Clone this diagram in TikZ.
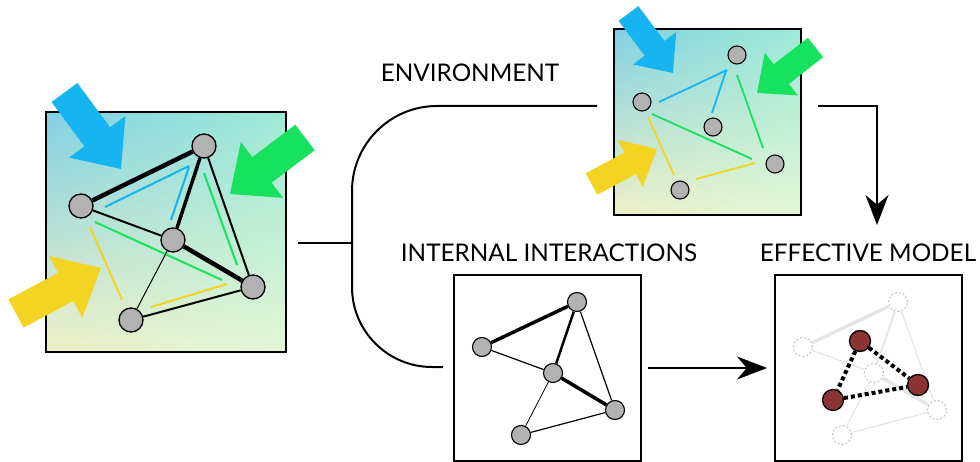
\documentclass[tikz,border=0pt]{standalone}
\usepackage{fontspec}
\setmainfont{Lato}
\usepackage{xcolor}
\usepackage{tikz}
\usetikzlibrary{arrows.meta,calc,shadings}
\definecolor{envblue}{RGB}{22,180,240}
\definecolor{envgreen}{RGB}{22,226,96}
\definecolor{envyellow}{RGB}{244,212,34}
\definecolor{nodegray}{RGB}{178,178,178}
\definecolor{effred}{RGB}{140,52,52}
\definecolor{bgtl}{RGB}{130,208,228}
\definecolor{bgtr}{RGB}{158,234,214}
\definecolor{bgbl}{RGB}{240,240,198}
\definecolor{bgbr}{RGB}{226,246,214}
\newcommand\blockarrow[4]{%
\coordinate (ba) at ($(#3)!#4*40pt!(#2)$);
\fill[#1]($(#2)!#4*16pt!90:(#3)$)--($(ba)!#4*16pt!-90:(#2)$)--($(ba)!#4*35pt!-90:(#2)$)--(#3)
--($(ba)!#4*35pt!90:(#2)$)--($(ba)!#4*16pt!90:(#2)$)--($(#2)!#4*16pt!-90:(#3)$)--cycle;}

\begin{document}
\begin{tikzpicture}[x=1pt,y=-1pt,font=\fontsize{24.3}{29}\selectfont,
gnode/.style={circle,draw,line width=1.3pt,fill=nodegray,inner sep=0pt,minimum size=24pt},
snode/.style={gnode,minimum size=18pt,line width=1.1pt},
inode/.style={gnode,minimum size=19pt,line width=1.1pt},
ghost/.style={circle,draw=gray!50,dash pattern=on 2pt off 2pt,line width=1pt,fill=white,inner sep=0pt,minimum size=19pt},
rnode/.style={circle,draw,line width=1.3pt,fill=effred,inner sep=0pt,minimum size=21pt},
envbox/.style={draw,line width=2pt,shading=bilinear interpolation,upper left=bgtl,upper right=bgtr,lower left=bgbl,lower right=bgbr,inner sep=0pt},
plainbox/.style={draw,line width=2pt,inner sep=0pt,minimum width=187pt,minimum height=186pt},
link/.style={line width=2pt}]
\useasboundingbox (0,0) rectangle (980,462);

\node[envbox,minimum width=240pt,minimum height=240pt] (sys) at (166,232) {};
\node[envbox,minimum width=187pt,minimum height=186pt] (env) at (707.5,122) {};
\node[plainbox] (int) at (547.5,368) {};
\node[plainbox] (eff) at (868.5,368) {};

\node (envlabel) at (470,73) {ENVIRONMENT};
\node (intlabel) at (549,253) {INTERNAL INTERACTIONS};
\node (efflabel) at (868,253) {EFFECTIVE MODEL};

\draw[envblue,line width=2pt](105,207)--(189,166) (171,220)--(189,167);
\draw[envgreen,line width=2pt](204,173)--(237,265) (95,222)--(222,280);
\draw[envyellow,line width=2pt](90,227)--(122,300) (151,307)--(227,284);
\node[gnode] (a1) at (204,146) {};
\node[gnode] (a2) at (81,206) {};
\node[gnode] (a3) at (173,240) {};
\node[gnode] (a4) at (253,287) {};
\node[gnode] (a5) at (131,320) {};
\draw[line width=4.5pt](a2)--(a1);
\draw[line width=3.5pt](a1)--(a3);
\draw[line width=4.5pt](a3)--(a4);
\draw[line width=2pt](a1)--(a4) (a2)--(a3) (a5)--(a4);
\draw[line width=1pt](a3)--(a5);
\blockarrow{envblue}{64.5,92.5}{121,169}{1}
\blockarrow{envgreen}{305,137.5}{230,194}{1}
\blockarrow{envyellow}{16,313.5}{101,268}{1}

\draw[envblue,line width=1.8pt](659,102)--(727,70) (712,113)--(726,71);
\draw[envgreen,line width=1.8pt](737,75)--(763,148) (652,114)--(752,159);
\draw[envyellow,line width=1.8pt](648,117)--(674,175) (696,179)--(755,163);
\node[snode] (e1) at (737,55) {};
\node[snode] (e2) at (642,102) {};
\node[snode] (e3) at (713,127) {};
\node[snode] (e4) at (775,164) {};
\node[snode] (e5) at (680,190) {};
\blockarrow{envblue}{628.5,13.5}{673,73}{0.77}
\blockarrow{envgreen}{815.5,47.5}{757,93}{0.77}
\blockarrow{envyellow}{591.5,184}{657,149}{0.76}

\node[inode] (i1) at (577,302) {};
\node[inode] (i2) at (482,347) {};
\node[inode] (i3) at (553,373) {};
\node[inode] (i4) at (615,410) {};
\node[inode] (i5) at (521,435) {};
\draw[line width=3.5pt](i2)--(i1) (i3)--(i4);
\draw[line width=2.5pt](i1)--(i3);
\draw[line width=1.2pt](i1)--(i4) (i2)--(i3) (i5)--(i4);
\draw[line width=0.8pt](i3)--(i5);

\node[ghost] (f1) at (898,302) {};
\node[ghost] (f2) at (803,347) {};
\node[ghost] (f3) at (874,373) {};
\node[ghost] (f4) at (937,410) {};
\node[ghost] (f5) at (842,435) {};
\draw[gray!20,line width=3.5pt](f2)--(f1) (f3)--(f4);
\draw[gray!20,line width=2pt](f1)--(f3);
\draw[gray!20,line width=1.2pt](f1)--(f4) (f2)--(f3) (f5)--(f4) (f3)--(f5);
\node[rnode] (r1) at (860,341) {};
\node[rnode] (r2) at (918,385) {};
\node[rnode] (r3) at (833,400) {};
\draw[line width=4pt,dash pattern=on 4pt off 3pt](r1)--(r2) (r1)--(r3) (r3)--(r2);

\coordinate (sysout) at (298,243);
\coordinate (brk) at (352,243);
\coordinate (envin) at (597,106);
\coordinate (intin) at (443,367);
\coordinate (envout) at (818,106);
\coordinate (effin) at (877,225);
\coordinate (intout) at (648,368);
\coordinate (effleft) at (767,368);
\draw[link](sysout)--(brk);
\draw[link,rounded corners=85pt](envin)-|(brk);
\draw[link,rounded corners=80pt](brk)|-(intin);
\draw[link,-{Stealth[length=30pt,width=23pt]}](envout)-|(effin);
\draw[link,-{Stealth[length=30pt,width=23pt]}](intout)--(effleft);
\end{tikzpicture}
\end{document}
